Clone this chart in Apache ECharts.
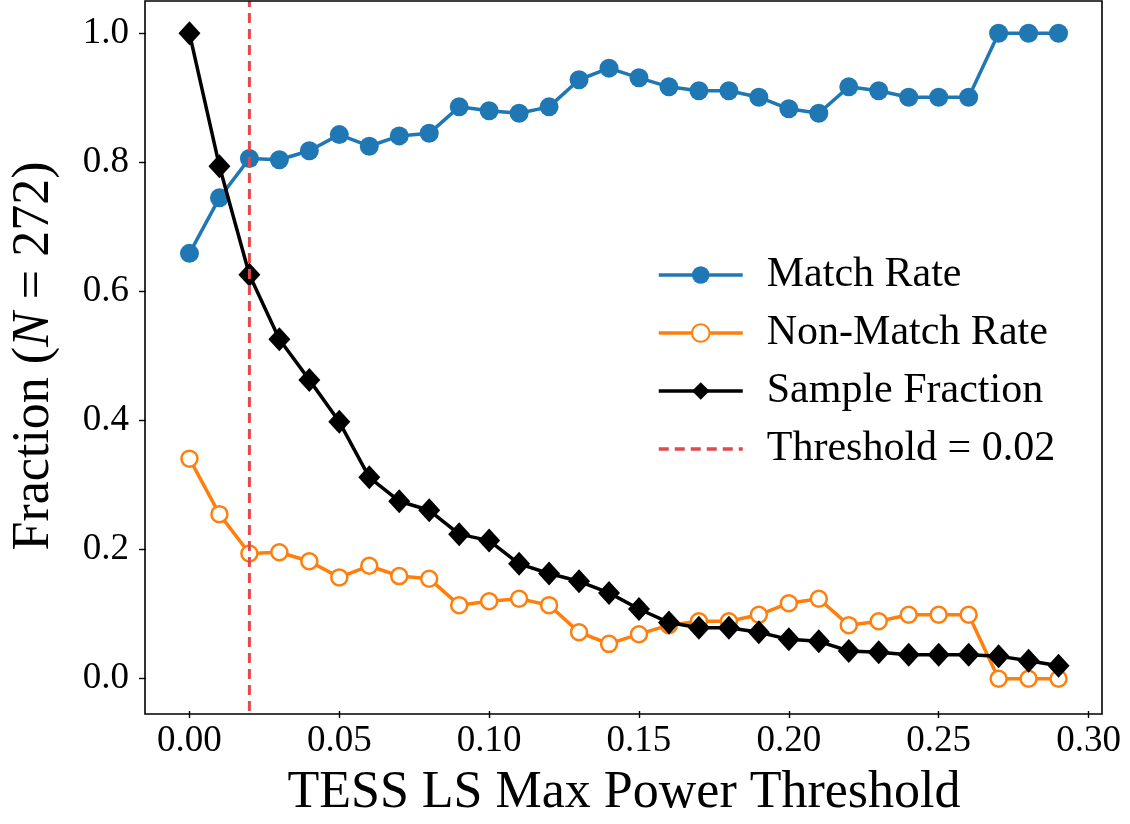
<!DOCTYPE html>
<html>
<head>
<meta charset="utf-8">
<script src="https://cdn.jsdelivr.net/npm/echarts@6/dist/echarts.min.js"></script>
<style>
  html, body { margin: 0; padding: 0; background: #fff; }
  #main { width: 1130px; height: 824px; }
</style>
</head>
<body>
<div id="main"></div>
<script>
// thresholds on the x axis
var thresholds = [0.00, 0.01, 0.02, 0.03, 0.04, 0.05, 0.06, 0.07, 0.08, 0.09,
  0.10, 0.11, 0.12, 0.13, 0.14, 0.15, 0.16, 0.17, 0.18, 0.19,
  0.20, 0.21, 0.22, 0.23, 0.24, 0.25, 0.26, 0.27, 0.28, 0.29];

var matchRate = [0.659, 0.745, 0.806, 0.804, 0.818, 0.843, 0.825, 0.841, 0.845, 0.886,
  0.880, 0.876, 0.886, 0.928, 0.946, 0.931, 0.917, 0.911, 0.911, 0.901,
  0.883, 0.876, 0.917, 0.911, 0.901, 0.901, 0.901, 1.000, 1.000, 1.000];

var nonMatchRate = [0.341, 0.255, 0.194, 0.196, 0.182, 0.157, 0.175, 0.159, 0.155, 0.114,
  0.120, 0.124, 0.114, 0.072, 0.054, 0.069, 0.083, 0.089, 0.089, 0.099,
  0.117, 0.124, 0.083, 0.089, 0.099, 0.099, 0.099, 0.000, 0.000, 0.000];

var sampleFraction = [1.000, 0.794, 0.626, 0.526, 0.463, 0.398, 0.312, 0.275, 0.261, 0.224,
  0.214, 0.178, 0.163, 0.151, 0.133, 0.108, 0.087, 0.079, 0.079, 0.072,
  0.061, 0.058, 0.043, 0.041, 0.037, 0.037, 0.037, 0.035, 0.028, 0.020];

var thresholdValue = 0.02;
var xTicks = [0.00, 0.05, 0.10, 0.15, 0.20, 0.25, 0.30];
var yTicks = [0.0, 0.2, 0.4, 0.6, 0.8, 1.0];

function pairs(ys) {
  return thresholds.map(function (x, i) { return [x, ys[i]]; });
}

var FONT = '"Liberation Serif", "DejaVu Serif", serif';
var RED = '#e0494e';

var chart = echarts.init(document.getElementById('main'), null, { renderer: 'canvas' });

var option = {
  backgroundColor: '#fff',
  animation: false,
  textStyle: { fontFamily: FONT },
  grid: { left: 145, right: 28, top: 1, bottom: 110, show: false },
  legend: {
    orient: 'vertical',
    left: 652,
    top: 249,
    itemWidth: 84,
    itemHeight: 22,
    itemGap: 16,
    lineStyle: { width: 3.5 },
    data: [
      'Match Rate',
      'Non-Match Rate',
      'Sample Fraction',
      { name: 'Threshold = 0.02', itemStyle: { color: 'rgba(0,0,0,0)', borderWidth: 0, opacity: 0 } }
    ],
    textStyle: { fontFamily: FONT, fontSize: 42, color: '#000', padding: [0, 0, 0, 19], lineHeight: 40 }
  },
  xAxis: {
    type: 'value',
    min: -0.0145,
    max: 0.3045,
    name: 'TESS LS Max Power Threshold',
    nameLocation: 'middle',
    nameGap: 56,
    nameTextStyle: { fontFamily: FONT, fontSize: 52, color: '#000' },
    axisLine: { show: false, onZero: false },
    axisTick: { show: true, length: 7, lineStyle: { color: '#000', width: 1.4 }, customValues: xTicks },
    axisLabel: {
      fontFamily: FONT, fontSize: 37, color: '#000', margin: 12,
      customValues: xTicks,
      formatter: function (v) { return v.toFixed(2); }
    },
    splitLine: { show: false }
  },
  yAxis: {
    type: 'value',
    min: -0.05,
    max: 1.05,
    name: '{a|Fraction (}{i|N}{a| = 272)}',
    nameLocation: 'middle',
    nameGap: 86,
    nameRotate: 90,
    nameTextStyle: {
      rich: {
        a: { fontFamily: FONT, fontSize: 52, color: '#000' },
        i: { fontFamily: FONT, fontSize: 52, color: '#000', fontStyle: 'italic' }
      }
    },
    axisLine: { show: false, onZero: false },
    axisTick: { show: true, length: 7, lineStyle: { color: '#000', width: 1.4 }, customValues: yTicks },
    axisLabel: {
      fontFamily: FONT, fontSize: 37, color: '#000', margin: 17,
      customValues: yTicks,
      formatter: function (v) { return v.toFixed(1); }
    },
    splitLine: { show: false }
  },
  series: [
    {
      name: 'Match Rate',
      type: 'line',
      data: pairs(matchRate),
      color: '#1f77b4',
      symbol: 'circle',
      symbolSize: 19,
      showAllSymbol: true,
      lineStyle: { width: 3.5, color: '#1f77b4' },
      itemStyle: { color: '#1f77b4' },
      z: 2
    },
    {
      name: 'Non-Match Rate',
      type: 'line',
      data: pairs(nonMatchRate),
      color: '#ff7f0e',
      symbol: 'circle',
      symbolSize: 16,
      showAllSymbol: true,
      lineStyle: { width: 3.5, color: '#ff7f0e' },
      itemStyle: { color: '#fff', borderColor: '#ff7f0e', borderWidth: 2.5 },
      z: 3
    },
    {
      name: 'Sample Fraction',
      type: 'line',
      data: pairs(sampleFraction),
      color: '#000',
      symbol: 'diamond',
      symbolSize: [22, 24],
      showAllSymbol: true,
      lineStyle: { width: 3.5, color: '#000' },
      itemStyle: { color: '#000' },
      z: 4
    },
    {
      name: 'Threshold = 0.02',
      type: 'line',
      data: [[thresholdValue, -0.05], [thresholdValue, 1.05]],
      color: RED,
      symbol: 'none',
      lineStyle: { width: 3, color: RED, type: [10, 6] },
      z: 5
    }
  ],
  graphic: [
    {
      type: 'rect',
      shape: { x: 145, y: 1, width: 957, height: 713 },
      style: { fill: 'none', stroke: '#000', lineWidth: 1.6 },
      silent: true,
      z: 10
    }
  ]
};

chart.setOption(option);
</script>
</body>
</html>
